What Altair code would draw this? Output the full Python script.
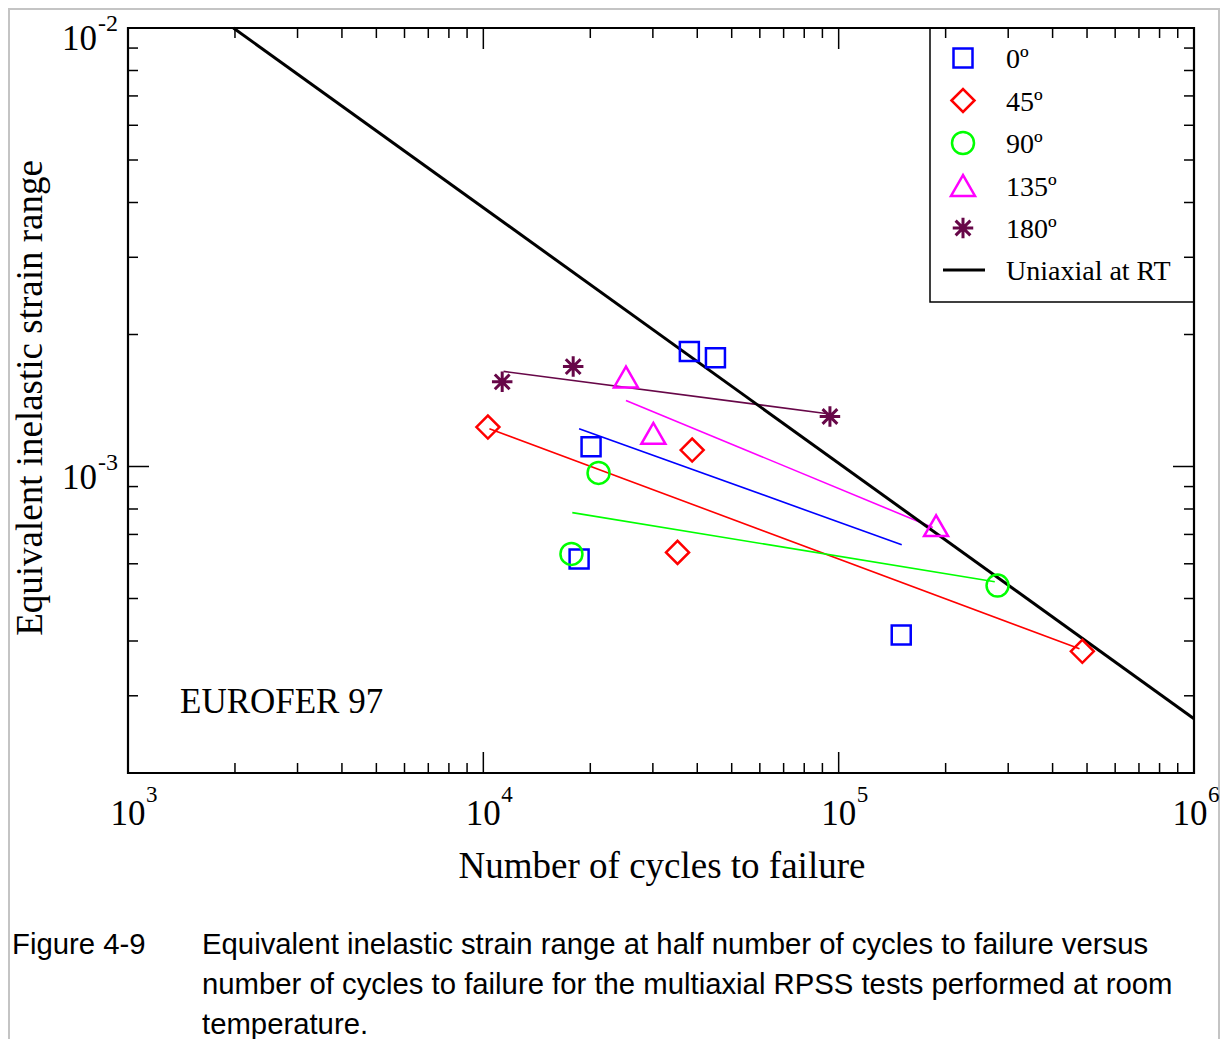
import altair as alt
import pandas as pd

# ---------------- data ----------------
N_0 = [38000, 45000, 20100, 18600, 150000]
E_0 = [0.00183, 0.00177, 0.00111, 0.000615, 0.000413]
N_45 = [10300, 38700, 35200, 485000]
E_45 = [0.00123, 0.00109, 0.000637, 0.000379]
N_90 = [21100, 17700, 280000]
E_90 = [0.000967, 0.000632, 0.000535]
N_135 = [25200, 30100, 188000]
E_135 = [0.00160, 0.00119, 0.000733]
N_180 = [11300, 17900, 94500]
E_180 = [0.00156, 0.00169, 0.00130]

# fitted lines (end points)
FIT_N_0 = [18600, 150500]
FIT_E_0 = [0.00122, 0.000663]
FIT_N_45 = [10400, 476000]
FIT_E_45 = [0.00122, 0.000384]
FIT_N_90 = [17800, 275000]
FIT_E_90 = [0.000785, 0.000546]
FIT_N_135 = [25200, 184000]
FIT_E_135 = [0.001415, 0.000726]
FIT_N_180 = [11400, 92000]
FIT_E_180 = [0.001648, 0.001321]
UNI_N = [1980, 1000000]
UNI_E = [0.01, 0.000266]

LABELS = ["0º", "45º", "90º", "135º", "180º"]
UNI_LABEL = "Uniaxial at RT"

X_MAJOR = [1e3, 1e4, 1e5, 1e6]
X_EXP = ["3", "4", "5", "6"]
X_MINOR = [2e3, 3e3, 4e3, 5e3, 6e3, 7e3, 8e3, 9e3,
           2e4, 3e4, 4e4, 5e4, 6e4, 7e4, 8e4, 9e4,
           2e5, 3e5, 4e5, 5e5, 6e5, 7e5, 8e5, 9e5]
Y_MAJOR = [1e-2, 1e-3]
Y_EXP = ["-2", "-3"]
Y_MINOR = [3e-4, 4e-4, 5e-4, 6e-4, 7e-4, 8e-4, 9e-4,
           2e-3, 3e-3, 4e-3, 5e-3, 6e-3, 7e-3, 8e-3, 9e-3]

CAPTION_NUM = "Figure 4-9"
CAPTION = ["Equivalent inelastic strain range at half number of cycles to failure versus",
           "number of cycles to failure for the multiaxial RPSS tests performed at room",
           "temperature."]

# ---------------- layout ----------------
W, H = 1066, 745
SERIF = "Liberation Serif"
xs = alt.Scale(type="log", domain=[1e3, 1e6], nice=False)
ys = alt.Scale(type="log", domain=[2e-4, 1e-2], nice=False)


def X(f="N"):
    return alt.X(f"{f}:Q", scale=xs, axis=None)


def Y(f="E"):
    return alt.Y(f"{f}:Q", scale=ys, axis=None)


COLORS = ["#0000ff", "#ff0000", "#00ff00", "#ff00ff", "#670748"]
ASTER = "M0,-1L0,1M-1,0L1,0M-0.72,-0.72L0.72,0.72M-0.72,0.72L0.72,-0.72"
SHAPES = ["square", "diamond", "circle", "triangle-up", ASTER]
SIZES = [361, 529, 484, 576, 420]
SW = [2.5, 2.5, 2.5, 2.5, 3]

pts = [(N_0, E_0), (N_45, E_45), (N_90, E_90), (N_135, E_135), (N_180, E_180)]
fits = [(FIT_N_0, FIT_E_0), (FIT_N_45, FIT_E_45), (FIT_N_90, FIT_E_90),
        (FIT_N_135, FIT_E_135), (FIT_N_180, FIT_E_180)]

layers = []
one = pd.DataFrame({"a": [0]})

# outer light gray frame of the figure
layers.append(alt.Chart(one).mark_rect(
    fillOpacity=0, stroke="#c4c4c4", strokeWidth=2).encode(
    x=alt.value(-119), x2=alt.value(1091), y=alt.value(-19), y2=alt.value(1100)))

# legend box
layers.append(alt.Chart(one).mark_rect(
    fill="white", stroke="black", strokeWidth=1.5).encode(
    x=alt.value(802), x2=alt.value(W), y=alt.value(0), y2=alt.value(274)))

# fitted lines
for i, (fn, fe) in enumerate(fits):
    d = pd.DataFrame({"N": fn, "E": fe})
    layers.append(alt.Chart(d).mark_line(color=COLORS[i], strokeWidth=1.6).encode(x=X(), y=Y()))

# uniaxial line
layers.append(alt.Chart(pd.DataFrame({"N": UNI_N, "E": UNI_E})).mark_line(
    color="black", strokeWidth=3).encode(x=X(), y=Y()))

# points
for i, (pn, pe) in enumerate(pts):
    d = pd.DataFrame({"N": pn, "E": pe})
    layers.append(alt.Chart(d).mark_point(
        shape=SHAPES[i], size=SIZES[i], filled=False, color=COLORS[i],
        strokeWidth=SW[i], opacity=1).encode(x=X(), y=Y()))

# legend entries
for i, lab in enumerate(LABELS):
    yy = 30 + i * 42.5
    d = pd.DataFrame({"label": [lab]})
    layers.append(alt.Chart(d).mark_point(
        shape=SHAPES[i], size=SIZES[i], filled=False, color=COLORS[i],
        strokeWidth=SW[i], opacity=1).encode(x=alt.value(835), y=alt.value(yy)))
    layers.append(alt.Chart(d).mark_text(
        font=SERIF, fontSize=28, align="left", baseline="alphabetic", color="black").encode(
        x=alt.value(878), y=alt.value(yy + 10), text="label:N"))
d = pd.DataFrame({"label": [UNI_LABEL]})
layers.append(alt.Chart(d).mark_rule(color="black", strokeWidth=3).encode(
    x=alt.value(815), x2=alt.value(857), y=alt.value(242)))
layers.append(alt.Chart(d).mark_text(
    font=SERIF, fontSize=28, align="left", baseline="alphabetic", color="black").encode(
    x=alt.value(878), y=alt.value(252), text="label:N"))

# ticks (inward, mirrored)
dxm = pd.DataFrame({"N": X_MINOR})
dxM = pd.DataFrame({"N": X_MAJOR[1:-1]})
dym = pd.DataFrame({"E": Y_MINOR})
dyM = pd.DataFrame({"E": Y_MAJOR[1:]})
for dfx, ln in [(dxm, 10), (dxM, 21)]:
    layers.append(alt.Chart(dfx).mark_rule(color="black", strokeWidth=1.5).encode(
        x=X(), y=alt.value(H), y2=alt.value(H - ln)))
    layers.append(alt.Chart(dfx).mark_rule(color="black", strokeWidth=1.5).encode(
        x=X(), y=alt.value(0), y2=alt.value(ln)))
for dfy, ln in [(dym, 10), (dyM, 21)]:
    layers.append(alt.Chart(dfy).mark_rule(color="black", strokeWidth=1.5).encode(
        y=Y(), x=alt.value(0), x2=alt.value(ln)))
    layers.append(alt.Chart(dfy).mark_rule(color="black", strokeWidth=1.5).encode(
        y=Y(), x=alt.value(W), x2=alt.value(W - ln)))

# plot frame
layers.append(alt.Chart(one).mark_rect(
    fillOpacity=0, stroke="black", strokeWidth=2.2).encode(
    x=alt.value(0), x2=alt.value(W), y=alt.value(0), y2=alt.value(H)))

# tick labels
dxl = pd.DataFrame({"N": X_MAJOR, "base": ["10"] * 4, "exp": X_EXP})
layers.append(alt.Chart(dxl.iloc[:3]).mark_text(
    font=SERIF, fontSize=35, align="center", baseline="alphabetic", color="black").encode(
    x=X(), y=alt.value(797), text="base:N"))
layers.append(alt.Chart(dxl.iloc[3:]).mark_text(
    font=SERIF, fontSize=35, align="center", baseline="alphabetic", dx=-4, color="black").encode(
    x=X(), y=alt.value(797), text="base:N"))
layers.append(alt.Chart(dxl.iloc[:3]).mark_text(
    font=SERIF, fontSize=23, align="left", baseline="alphabetic", dx=18, color="black").encode(
    x=X(), y=alt.value(774), text="exp:N"))
layers.append(alt.Chart(dxl.iloc[3:]).mark_text(
    font=SERIF, fontSize=23, align="left", baseline="alphabetic", dx=14, color="black").encode(
    x=X(), y=alt.value(774), text="exp:N"))
dyl = pd.DataFrame({"E": Y_MAJOR, "base": ["10"] * 2, "exp": Y_EXP})
layers.append(alt.Chart(dyl).mark_text(
    font=SERIF, fontSize=35, align="right", baseline="alphabetic", dy=22, color="black").encode(
    y=Y(), x=alt.value(-31), text="base:N"))
layers.append(alt.Chart(dyl).mark_text(
    font=SERIF, fontSize=24, align="left", baseline="alphabetic", dy=3, color="black").encode(
    y=Y(), x=alt.value(-30), text="exp:N"))

# titles and annotation
tx = pd.DataFrame({"t": ["Number of cycles to failure"]})
layers.append(alt.Chart(tx).mark_text(
    font=SERIF, fontSize=37, align="center", baseline="alphabetic", color="black").encode(
    x=alt.value(534), y=alt.value(850), text="t:N"))
ty = pd.DataFrame({"t": ["Equivalent inelastic strain range"]})
layers.append(alt.Chart(ty).mark_text(
    font=SERIF, fontSize=37, align="center", baseline="alphabetic", angle=270, color="black").encode(
    x=alt.value(-86), y=alt.value(370), text="t:N"))
te = pd.DataFrame({"t": ["EUROFER 97"]})
layers.append(alt.Chart(te).mark_text(
    font=SERIF, fontSize=35, align="left", baseline="alphabetic", color="black").encode(
    x=alt.value(52), y=alt.value(685), text="t:N"))

# caption
CAP_FONT = "Liberation Sans"
tc = pd.DataFrame({"t": [CAPTION_NUM]})
layers.append(alt.Chart(tc).mark_text(
    font=CAP_FONT, fontSize=29.3, align="left", baseline="alphabetic", color="black").encode(
    x=alt.value(-116), y=alt.value(926), text="t:N"))
for k, line in enumerate(CAPTION):
    tl = pd.DataFrame({"t": [line]})
    layers.append(alt.Chart(tl).mark_text(
        font=CAP_FONT, fontSize=29.3, align="left", baseline="alphabetic", color="black").encode(
        x=alt.value(74), y=alt.value(926 + 40 * k), text="t:N"))

chart = alt.layer(*layers).properties(
    width=W, height=H, autosize="none",
    padding={"left": 120, "top": 20, "right": 26, "bottom": 266},
    background="white",
).configure_view(strokeWidth=0)

chart.save("out.html", embed_options={"renderer": "svg", "actions": False})
